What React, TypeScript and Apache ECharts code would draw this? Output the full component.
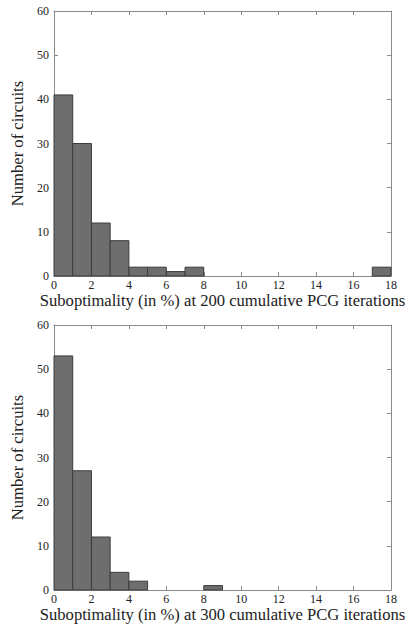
import React, { useEffect, useRef } from "react";
import * as echarts from "echarts";

const binStarts = [0, 1, 2, 3, 4, 5, 6, 7, 8, 9, 10, 11, 12, 13, 14, 15, 16, 17];
const counts200 = [41, 30, 12, 8, 2, 2, 1, 2, 0, 0, 0, 0, 0, 0, 0, 0, 0, 2];
const counts300 = [53, 27, 12, 4, 2, 0, 0, 0, 1, 0, 0, 0, 0, 0, 0, 0, 0, 0];
const xName200 = "Suboptimality (in %) at 200 cumulative PCG iterations";
const xName300 = "Suboptimality (in %) at 300 cumulative PCG iterations";
const yName = "Number of circuits";

const FONT = "Times New Roman";
const BOX = "#8a8a8a";

export default function App() {
  const ref = useRef<HTMLDivElement>(null);
  useEffect(() => {
    if (!ref.current) return;
    const chart = echarts.init(ref.current, undefined, { renderer: "svg", width: 410, height: 631 });
    const grids = [
      { left: 54, right: 19, top: 11, height: 265 },
      { left: 54, right: 19, top: 325, height: 265 },
    ];
    const names = [xName200, xName300];
    const datas = [counts200, counts300];
    const xAxes: any[] = [];
    const yAxes: any[] = [];
    const series: any[] = [];
    const line = { show: true, onZero: false, lineStyle: { color: BOX, width: 1 } };
    const tick = { show: true, inside: true, length: 4, lineStyle: { color: BOX } };
    grids.forEach((g, i) => {
      xAxes.push({
        type: "value", gridIndex: i, min: 0, max: 18, interval: 2, position: "bottom",
        name: names[i], nameLocation: "middle", nameGap: 13,
        nameTextStyle: { fontFamily: FONT, fontSize: 16.6, color: "#222" },
        axisLine: line, axisTick: tick,
        axisLabel: { fontFamily: FONT, fontSize: 12, color: "#222", margin: 3 },
        splitLine: { show: false },
      });
      xAxes.push({
        type: "value", gridIndex: i, min: 0, max: 18, interval: 2, position: "top",
        axisLine: line, axisTick: tick,
        axisLabel: { show: false },
        splitLine: { show: false },
      });
      yAxes.push({
        type: "value", gridIndex: i, min: 0, max: 60, interval: 10, position: "left",
        name: yName, nameLocation: "middle", nameGap: 23,
        nameTextStyle: { fontFamily: FONT, fontSize: 16.6, color: "#222" },
        axisLine: line, axisTick: tick,
        axisLabel: { fontFamily: FONT, fontSize: 12, color: "#222", margin: 5 },
        splitLine: { show: false },
      });
      yAxes.push({
        type: "value", gridIndex: i, min: 0, max: 60, interval: 10, position: "right",
        axisLine: line, axisTick: tick,
        axisLabel: { show: false },
        splitLine: { show: false },
      });
      series.push({
        type: "custom",
        xAxisIndex: i * 2,
        yAxisIndex: i * 2,
        data: binStarts.map((s, k) => [s, s + 1, datas[i][k]]),
        renderItem: (params: any, api: any) => {
          const x0 = api.value(0), x1 = api.value(1), v = api.value(2);
          if (!v) return null;
          const p0 = api.coord([x0, v]);
          const p1 = api.coord([x1, 0]);
          return {
            type: "rect",
            shape: { x: p0[0], y: p0[1], width: p1[0] - p0[0], height: p1[1] - p0[1] },
            style: { fill: "#6e6e6e", stroke: "#3c3c3c", lineWidth: 1 },
          };
        },
        z: 1,
      });
    });
    chart.setOption({
      animation: false,
      backgroundColor: "#fff",
      textStyle: { fontFamily: FONT },
      grid: grids,
      xAxis: xAxes,
      yAxis: yAxes,
      series,
    });
    return () => chart.dispose();
  }, []);
  return (
    <div
      ref={ref}
      style={{ position: "fixed", left: 0, top: 0, width: 410, height: 631 }}
    />
  );
}
